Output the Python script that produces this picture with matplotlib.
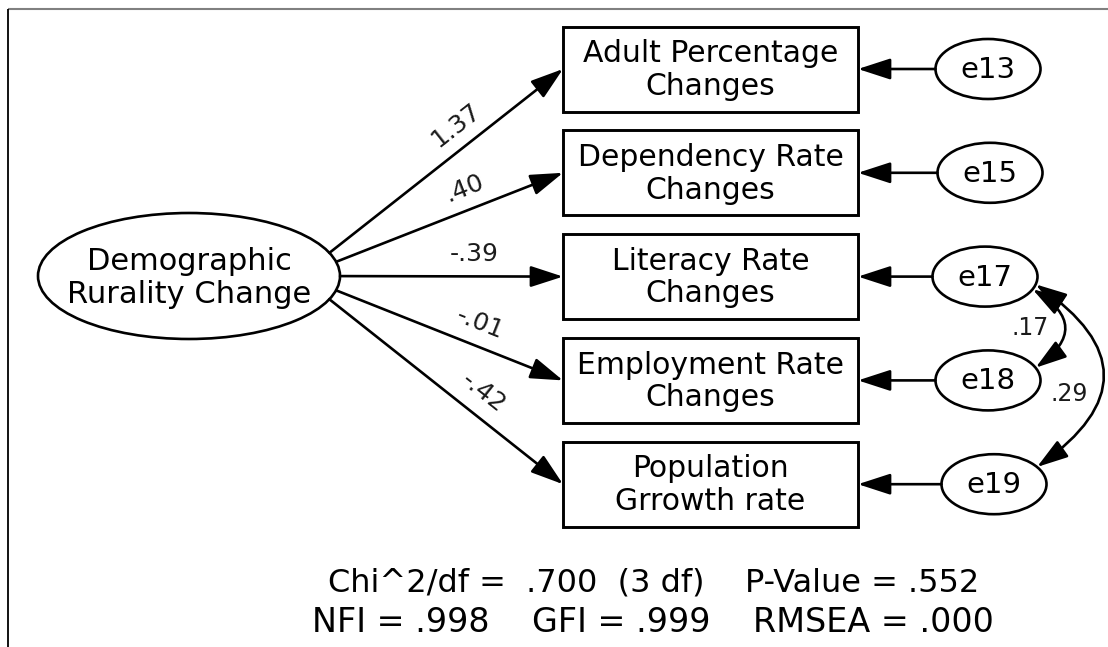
import math
import matplotlib
matplotlib.use("Agg")
import matplotlib.pyplot as plt
from matplotlib.patches import Ellipse, Rectangle, FancyArrowPatch
from matplotlib.lines import Line2D

# ---------------- data ----------------
latent_label = "Demographic\nRurality Change"
indicator_labels = ["Adult Percentage\nChanges", "Dependency Rate\nChanges",
                    "Literacy Rate\nChanges", "Employment Rate\nChanges",
                    "Population\nGrrowth rate"]
loadings = ["1.37", ".40", "-.39", "-.01", "-.42"]
error_labels = ["e13", "e15", "e17", "e18", "e19"]
cov_pairs = [("e17", "e18"), ("e17", "e19")]
cov_values = [".17", ".29"]
fit_line1 = "Chi^2/df =  .700  (3 df)    P-Value = .552"
fit_line2 = "NFI = .998    GFI = .999    RMSEA = .000"

# ---------------- layout (pixel space) ----------------
W, H = 1108, 647
fig = plt.figure(figsize=(W / 100, H / 100), dpi=100)
ax = fig.add_axes([0, 0, 1, 1])
ax.set_xlim(0, W)
ax.set_ylim(H, 0)
ax.axis("off")

LW = 1.9
lat_c = (189, 276)
lat_a, lat_b = 151, 63
box_x0, box_w, box_h = 563, 295, 85
row_y0, row_step = 69, 103.8
err_cx = [988, 990, 985, 988, 994]
err_w, err_h = 105, 60

# frame
ax.add_line(Line2D([8, W], [9, 9], color="#808080", lw=1.5, solid_capstyle="butt"))
ax.add_line(Line2D([8, 8], [9, H], color="black", lw=1.3, solid_capstyle="butt"))

# latent ellipse
ax.add_patch(Ellipse(lat_c, 2 * lat_a, 2 * lat_b, fill=False, ec="black", lw=LW))
ax.text(lat_c[0], lat_c[1] + 2, latent_label, ha="center", va="center",
        fontsize=22, linespacing=1.15)

anchor = (300, lat_c[1])


def ellipse_exit(target):
    dx, dy = target[0] - anchor[0], target[1] - anchor[1]
    ox = anchor[0] - lat_c[0]
    lo, hi = 0.0, 1.0
    for _ in range(60):
        t = (lo + hi) / 2
        v = ((ox + dx * t) / lat_a) ** 2 + ((dy * t) / lat_b) ** 2
        if v > 1:
            hi = t
        else:
            lo = t
    return (anchor[0] + dx * lo, anchor[1] + dy * lo)


err_pos = {}
for i, (lab, coef, elab) in enumerate(zip(indicator_labels, loadings, error_labels)):
    cy = row_y0 + i * row_step
    ax.add_patch(Rectangle((box_x0, cy - box_h / 2), box_w, box_h, fill=False,
                           ec="black", lw=2.1))
    ax.text(box_x0 + box_w / 2, cy + 1, lab, ha="center", va="center",
            fontsize=21.5, linespacing=1.15)
    # loading arrow
    tgt = (box_x0, cy)
    src = ellipse_exit(tgt)
    ax.add_patch(FancyArrowPatch(src, tgt, arrowstyle="-|>,head_length=20,head_width=6.5",
                                 mutation_scale=1, lw=LW, color="black",
                                 shrinkA=0, shrinkB=0))
    dx, dy = tgt[0] - src[0], tgt[1] - src[1]
    L = math.hypot(dx, dy)
    f = 0.6
    px, py = src[0] + dx * f, src[1] + dy * f
    nx, ny = dy / L, -dx / L
    off = 22
    ang = math.degrees(math.atan2(-dy, dx))
    ax.text(px + nx * off, py + ny * off, coef, ha="center", va="center",
            rotation=ang, rotation_mode="anchor", fontsize=18, color="#1a1a1a")
    # error term
    ex = err_cx[i]
    ax.add_patch(Ellipse((ex, cy), err_w, err_h, fill=False, ec="black", lw=LW))
    ax.text(ex, cy + 1, elab, ha="center", va="center", fontsize=21)
    ax.add_patch(FancyArrowPatch((ex - err_w / 2, cy), (box_x0 + box_w, cy),
                                 arrowstyle="-|>,head_length=20,head_width=6.5",
                                 mutation_scale=1, lw=LW, color="black",
                                 shrinkA=0, shrinkB=0))
    err_pos[elab] = (ex, cy)


def edge_point(name, deg):
    cx, cy = err_pos[name]
    r = math.radians(deg)
    return (cx + err_w / 2 * math.cos(r), cy - err_h / 2 * math.sin(r))


# covariances
cov_specs = [(-25, 25, -0.75, (1030, 328)), (-15, 35, -0.72, (1069, 394))]
for (a, b), val, (da, db, rad, lpos) in zip(cov_pairs, cov_values, cov_specs):
    pA = edge_point(a, da)
    pB = edge_point(b, db)
    ax.add_patch(FancyArrowPatch(pA, pB, connectionstyle=f"arc3,rad={rad}",
                                 arrowstyle="<|-|>,head_length=19,head_width=6",
                                 mutation_scale=1, lw=LW, color="black",
                                 shrinkA=0, shrinkB=0, clip_on=False))
    ax.text(lpos[0], lpos[1], val, ha="center", va="center", fontsize=17,
            color="#1a1a1a")

# fit statistics
ax.text(654, 583, fit_line1, ha="center", va="center", fontsize=23)
ax.text(653, 622, fit_line2, ha="center", va="center", fontsize=24)

fig.savefig("out.png", dpi=100, facecolor="white")
